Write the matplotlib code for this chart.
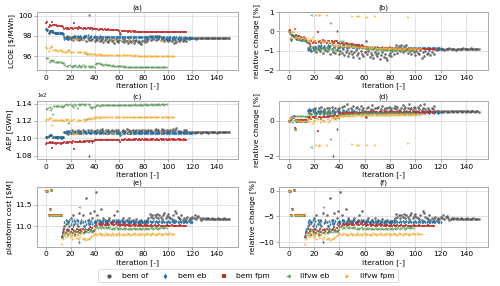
import numpy as np
import matplotlib.pyplot as plt

def vals(s):
    return np.array(s.split(), dtype=float)

labels = ["bem of", "bem eb", "bem fpm", "llfvw eb", "llfvw fpm"]
colors = ["#555555", "#1f6fa5", "#c23030", "#5a9e5a", "#f5b03c"]
markers = ["o", "d", "s", "<", ">"]

# LCOE [$/MWh] per iteration
lcoe_bem_of = vals("""
98.70 98.62 98.30 98.52 98.48 98.45 98.35 98.32 98.30 98.30
98.28 98.30 98.27 98.25 98.22 97.85 97.80 97.95 97.70 97.88
97.75 97.90 97.65 97.80 97.95 97.70 97.85 97.60 97.90 97.75
97.70 97.85 97.95 97.55 97.80 97.65 97.90 97.60 97.75 97.85
97.55 97.70 97.60 97.80 97.50 97.65 97.75 97.45 97.60 97.70
97.55 97.40 97.65 97.75 97.50 97.60 97.35 97.70 97.55 97.45
97.65 98.20 97.55 97.70 97.40 97.60 97.50 97.35 97.65 97.55
97.45 97.60 97.30 97.50 97.65 97.40 97.55 97.35 97.25 97.50
97.60 97.45 97.70 97.55 97.75 98.00 97.60 97.95 97.70 98.00
97.65 97.95 97.75 98.00 97.60 97.80 97.70 97.55 97.75 97.65
97.50 97.70 97.60 97.55 97.75 97.35 97.65 97.45 97.70 97.55
97.60 97.75 97.50 97.65 97.80 97.55 97.80 97.75 97.82 97.80
97.78 97.82 97.80 97.75 97.82 97.80 97.78 97.84 97.80 97.78
97.82 97.80 97.76 97.82 97.80 97.78 97.82 97.80 97.84 97.78
97.80 97.82 97.78 97.80 97.84 97.80 97.78 97.82 97.80 97.82 97.80
""")
lcoe_bem_eb = vals("""
98.70 98.60 98.28 98.50 98.45 98.40 98.35 98.30 98.32 98.30
98.30 98.28 98.30 98.25 98.22 97.75 97.80 97.78 97.75 97.85
97.80 97.90 97.85 97.95 97.80 97.90 98.00 97.85 97.95 97.80
97.90 98.00 97.85 97.95 98.05 100.10 97.90 97.95 98.70 97.90
97.95 97.90 97.92 97.88 97.95 97.90 97.92 97.88 97.90 97.93
97.90 97.88 97.92 97.90 97.87 97.92 97.90 97.88 97.91 97.89
97.90 97.88 97.86 97.90 97.88 97.87 97.89 97.86 97.88 97.87
97.88 97.86 97.87 97.85 97.88 97.86 97.87 97.85 97.86 97.88
97.86 97.85 97.87 97.86 97.85 97.87 97.86 97.85 97.84 97.86
97.85 97.86 97.84 97.85 97.86 97.84 97.85 97.86 97.84 97.85
97.84 97.86 97.85 97.84 97.85 97.86 97.84 97.85 97.83 97.85
97.84 97.85 97.83 97.84 97.85 97.84 97.83 97.85 97.84 97.83 97.84
""")
lcoe_bem_fpm = vals("""
99.30 99.35 98.90 99.05 99.00 99.40 99.10 99.05 99.08 99.00
99.02 98.98 99.00 98.95 98.90 98.70 98.75 98.65 98.80 98.70
98.75 98.80 98.70 99.25 98.75 98.80 98.70 98.85 98.75 98.80
98.70 98.78 98.82 98.72 98.80 98.75 98.70 98.78 98.80 98.72
98.68 98.65 98.70 98.62 98.66 98.64 98.68 98.62 98.65 98.63
98.60 98.64 98.58 98.62 98.60 98.57 98.60 98.55 98.58 98.56
98.50 98.25 98.48 98.46 98.47 98.45 98.46 98.44 98.45 98.46
98.44 98.45 98.43 98.45 98.44 98.42 98.44 98.43 98.42 98.44
98.43 98.42 98.44 98.42 98.43 98.41 98.42 98.43 98.41 98.42
98.41 98.42 98.40 98.42 98.41 98.40 98.42 98.41 98.40 98.41
98.40 98.41 98.40 98.39 98.41 98.40 98.39 98.40 98.41 98.39
98.40 98.39 98.40 98.38 98.40 98.39
""")
lcoe_llfvw_eb = vals("""
95.85 95.80 95.45 95.62 95.58 95.60 95.50 95.48 95.45 95.42
95.45 95.40 95.42 95.38 95.35 95.10 95.05 95.00 96.65 95.10
95.00 94.95 95.05 95.15 95.00 94.95 95.10 95.05 94.95 95.00
95.10 94.95 95.05 96.25 95.00 94.90 95.05 94.95 95.00 94.90
95.20 95.35 95.38 95.30 95.28 95.22 95.18 95.15 95.20 95.12
95.15 95.10 95.12 95.08 95.10 95.05 95.08 95.04 95.06 95.02
95.05 95.00 95.02 94.98 95.00 94.97 94.99 94.96 94.98 94.95
94.97 94.95 94.96 94.94 94.95 94.93 94.95 94.94 94.92 94.94
94.93 94.92 94.94 94.92 94.93 94.91 94.92 94.93 94.91 94.92
94.91 94.92 94.90 94.92 94.91 94.90 94.91 94.92 94.90
""")
lcoe_llfvw_fpm = vals("""
96.90 96.82 96.55 96.85 96.88 97.05 96.62 96.60 96.58 96.60
96.55 96.58 96.60 96.52 96.55 96.40 96.45 96.42 96.50 96.62
96.45 96.40 97.70 96.45 97.72 97.70 96.40 96.42 96.38 96.45
97.70 96.40 96.35 96.38 96.30 96.22 96.20 96.18 96.22 96.20
96.18 96.20 96.17 96.19 96.16 96.18 96.15 96.17 96.16 96.14
97.65 96.15 96.13 96.14 97.68 96.12 97.66 96.13 96.11 96.12
96.10 96.12 97.64 96.10 96.09 96.11 96.08 96.10 97.65 96.09
96.08 96.07 96.09 96.06 96.08 96.07 96.05 96.07 96.06 96.05
96.07 96.05 96.06 96.04 96.06 96.05 96.04 96.06 96.05 96.04
96.05 96.04 96.06 96.05 97.60 96.04 96.05 96.03 96.05 96.04
96.03 96.05 96.04 96.03 96.05 96.04
""")

# AEP [GWh] per iteration
aep_bem_of = vals("""
110.10 110.15 110.20 110.35 110.40 109.60 110.10 110.10 110.12 110.10
110.10 110.12 110.08 110.10 110.12 110.70 110.60 110.75 110.50 110.80
110.65 110.90 110.55 110.70 110.85 110.60 110.95 110.70 110.80 110.55
110.90 110.70 110.85 110.60 110.95 110.75 110.65 110.90 110.70 110.80
110.85 110.60 110.95 110.75 111.00 110.70 111.10 110.80 110.65 110.90
110.75 111.00 110.70 110.85 110.95 110.60 110.80 111.00 110.75 110.90
110.70 110.35 110.85 110.95 110.70 110.80 111.05 110.75 110.90 110.65
110.85 110.95 110.70 110.80 111.00 110.75 110.90 110.70 110.85 110.95
110.75 110.90 110.70 110.85 111.00 110.80 110.95 110.75 110.70 110.90
111.05 110.80 110.95 110.70 110.85 111.10 110.80 110.90 110.75 110.95
110.85 110.70 110.95 110.80 111.05 110.75 110.90 111.15 110.80 110.70
110.85 110.75 110.70 110.90 110.80 111.00 110.70 110.68 110.65 110.70
110.66 110.70 110.65 110.68 110.72 110.66 110.70 110.64 110.68 110.70
110.66 110.72 110.68 110.65 110.70 110.67 110.71 110.66 110.68 110.70
110.65 110.70 110.68 110.66 110.72 110.67 110.69 110.66 110.70 110.68 110.66
""")
aep_bem_eb = vals("""
110.10 110.15 110.20 110.35 110.40 109.60 110.10 110.12 110.10 110.08
110.10 110.12 110.10 110.08 110.10 110.75 110.80 110.70 110.78 110.72
110.65 110.75 110.60 110.70 110.55 110.68 110.72 110.60 110.65 110.70
110.58 110.66 110.70 110.62 110.68 107.90 110.60 110.65 109.60 110.62
110.68 110.62 110.66 110.60 110.64 110.62 110.66 110.60 110.63 110.65
110.62 110.60 110.64 110.61 110.63 110.60 110.62 110.64 110.60 110.62
110.61 110.63 110.60 110.62 110.61 110.63 110.60 110.62 110.61 110.60
110.62 110.60 110.63 110.61 110.60 110.62 110.64 110.60 110.61 110.63
110.60 110.62 110.61 110.63 110.60 110.62 110.61 110.60 110.63 110.61
110.62 110.60 110.61 110.63 110.60 110.62 110.61 110.60 110.62 110.61
110.63 110.60 110.62 110.61 110.60 110.62 110.63 110.61 110.60 110.62
110.61 110.60 110.62 110.61 110.63 110.60 110.61 110.62 110.60 110.61 110.62
""")
aep_bem_fpm = vals("""
109.35 109.40 109.50 109.55 109.50 108.90 109.40 109.42 109.38 109.40
109.42 109.40 109.38 109.40 109.42 109.55 109.50 109.60 109.48 109.55
109.58 109.50 109.62 108.70 109.55 109.60 109.52 109.58 109.62 109.55
109.60 109.65 109.58 109.62 109.66 109.60 109.64 109.68 109.62 109.66
109.75 109.80 109.78 109.82 109.80 109.78 109.82 109.80 109.84 109.80
109.82 109.80 109.84 109.82 109.80 109.83 109.81 109.84 109.82 109.80
109.85 109.60 109.83 109.85 109.84 109.86 109.84 109.85 109.86 109.84
109.85 109.84 109.86 109.85 109.87 109.84 109.86 109.85 109.84 109.86
109.85 109.87 109.84 109.86 109.85 109.84 109.86 109.85 109.87 109.85
109.84 109.86 109.85 109.84 109.86 109.85 109.87 109.84 109.86 109.85
109.84 109.86 109.85 109.87 109.84 109.86 109.85 109.84 109.86 109.85
109.86 109.84 109.85 109.86 109.84 109.85
""")
aep_llfvw_eb = vals("""
113.40 113.50 113.55 113.30 113.45 112.85 113.70 113.68 113.72 113.70
113.68 113.72 113.70 113.66 113.70 113.85 113.90 113.80 111.75 113.95
113.85 113.75 113.55 113.90 113.80 113.50 113.95 113.85 114.00 113.90
113.95 113.85 114.00 112.25 113.90 113.80 113.55 113.50 113.60 113.55
113.75 113.80 113.82 113.78 113.80 113.84 113.80 113.82 113.85 113.83
113.85 113.82 113.86 113.84 113.87 113.85 113.83 113.86 113.88 113.85
113.87 113.86 113.88 113.85 113.87 113.89 113.86 113.88 113.87 113.89
113.86 113.88 113.90 113.87 113.89 113.88 113.90 113.87 113.89 113.88
113.90 113.88 113.91 113.89 113.88 113.90 113.89 113.91 113.88 113.90
113.89 113.91 113.90 113.88 113.90 113.91 113.89 113.90 113.91
""")
aep_llfvw_fpm = vals("""
112.10 112.20 112.25 112.35 112.30 111.55 112.10 112.12 112.08 112.10
112.05 112.10 112.08 112.06 112.10 112.00 112.20 112.10 112.25 111.95
112.15 112.05 110.55 112.20 110.50 110.55 112.00 112.15 112.10 112.05
110.60 112.20 112.00 112.15 112.25 112.30 112.20 112.30 112.25 112.35
112.40 112.38 112.42 112.40 112.38 112.42 112.40 112.43 112.41 112.40
110.65 112.42 112.44 112.41 110.55 112.43 110.60 112.42 112.44 112.43
112.45 112.43 110.60 112.45 112.44 112.46 112.45 112.44 110.60 112.46
112.45 112.47 112.44 112.46 112.48 112.45 112.47 112.46 112.48 112.45
112.47 112.49 112.46 112.48 112.47 112.49 112.46 112.48 112.47 112.49
112.48 112.46 112.49 112.47 110.70 112.48 112.50 112.47 112.49 112.48
112.50 112.47 112.49 112.48 112.50 112.49
""")

# platform cost [$M] per iteration (first 13 iterations shared by all runs)
plat_start = "11.82 11.82 11.25 11.40 11.84 11.25 11.25 11.25 11.25 11.25 11.25 11.25 11.25"
plat_bem_of = vals(plat_start + """
10.75 10.90 11.00 11.05 10.95 11.10 11.00
11.20 10.95 11.25 11.05 10.90 11.15 11.00 11.30 10.95 11.10
11.25 11.00 10.95 11.65 11.15 11.05 11.30 10.90 11.20 11.35
11.10 11.78 11.25 11.15 11.05 11.40 11.10 11.20 11.15 11.10
11.05 11.15 11.20 11.10 11.05 11.15 11.25 11.10 11.35 11.15
11.10 11.05 11.15 11.20 11.10 11.05 11.15 11.10 11.20 11.08
11.12 11.15 11.05 11.10 11.18 11.08 11.12 11.05 11.15 11.10
11.08 11.12 11.10 11.15 11.20 11.28 11.22 11.25 11.20 11.26
11.22 11.28 11.20 11.25 11.22 11.18 11.25 11.30 11.20 11.24
11.28 11.22 11.20 11.18 11.25 11.15 11.35 11.30 11.22 11.20
11.18 11.25 11.15 11.20 11.12 11.18 11.22 11.15 11.20 11.18
11.22 11.20 11.25 11.18 11.22 11.24 11.20 11.15 11.18 11.20
11.18 11.20 11.16 11.19 11.18 11.17 11.19 11.18 11.16 11.18
11.17 11.19 11.18 11.16 11.18 11.17 11.19 11.18 11.17 11.18 11.17
""")
plat_bem_eb = vals(plat_start + """
10.80 10.95 11.10 11.15 11.12 11.08 11.15
11.05 11.12 11.00 11.15 11.10 11.05 11.12 10.65 11.08 11.15
11.10 11.00 11.12 11.05 11.10 11.15 11.08 11.12 11.05 11.10
11.12 11.10 11.14 11.11 11.13 11.10 11.12 11.14 11.11 11.13
11.10 11.12 11.15 11.11 11.13 11.10 11.12 11.14 11.11 11.13
11.10 11.12 11.11 11.13 11.10 11.12 11.14 11.11 11.12 11.10
11.13 11.11 11.12 11.10 11.13 11.11 11.12 11.10 11.12 11.11
11.13 11.10 11.12 11.11 11.09 11.12 11.10 11.11 11.13 11.10
11.12 11.11 11.09 11.12 11.10 11.11 11.12 11.10 11.11 11.09
11.12 11.10 11.11 11.12 11.10 11.11 11.09 11.12 11.10 11.11
11.12 11.10 11.11 11.09 11.12 11.10 11.11 11.12 11.10 11.11 11.10
""")
plat_bem_fpm = vals(plat_start + """
10.75 10.85 10.95 10.85 10.90 10.80 10.92
10.88 10.95 10.85 10.90 10.80 10.95 10.88 10.92 10.85 10.90
10.95 10.85 10.90 10.88 10.92 10.95 10.98 10.92 10.96 10.90
11.00 11.05 11.02 11.06 11.04 11.05 11.03 11.06 11.04 11.05
11.04 11.06 11.03 11.08 11.05 11.10 11.04 11.06 11.09 11.03
11.05 11.02 11.04 11.03 11.05 11.02 11.04 11.03 11.01 11.04
11.02 11.03 11.05 11.02 11.03 11.01 11.04 11.02 11.03 11.01
11.02 11.04 11.01 11.03 11.02 11.00 11.03 11.01 11.02 11.04
11.01 11.02 11.00 11.03 11.01 11.02 11.00 11.02 11.01 11.03
11.00 11.02 11.01 11.03 11.00 11.02 11.01 11.00 11.02 11.01
11.03 11.00 11.02 11.01 11.02 11.01
""")
plat_llfvw_eb = vals(plat_start + """
10.78 10.85 10.80 10.88 10.82 10.90 10.85
10.80 10.88 10.92 10.85 10.90 10.82 10.88 11.45 10.86 10.90
10.85 10.92 10.88 10.90 10.86 10.92 10.95 10.90 10.88 10.94
10.98 11.00 10.96 10.99 10.97 11.00 10.98 10.96 10.99 10.97
10.98 10.96 10.99 10.95 10.97 10.94 10.96 10.98 10.95 10.97
10.94 10.96 10.95 10.97 10.94 10.96 10.95 10.93 10.96 10.94
10.95 10.97 10.94 10.96 10.95 10.93 10.96 10.94 10.95 10.97
10.94 10.96 10.95 10.97 10.94 10.96 10.98 10.95 10.97 10.96
10.98 10.95 10.97 10.96 10.98 10.96 10.97 10.98 10.96
""")
plat_llfvw_fpm = vals(plat_start + """
10.60 10.72 10.80 10.75 10.85 10.78 10.82
10.75 10.80 10.72 10.85 10.78 10.74 10.80 10.70 10.76 10.82
10.72 10.70 10.74 10.68 10.72 10.70 10.73 10.75 10.78 10.80
10.82 10.84 10.81 10.83 10.85 10.82 10.80 10.83 10.81 10.84
10.82 10.80 10.83 10.81 10.82 10.84 10.81 10.83 10.80 10.82
10.84 10.81 10.83 10.82 10.80 10.83 10.81 10.84 10.82 10.83
10.81 10.83 10.82 10.84 10.81 10.82 10.83 10.81 10.84 10.82
10.83 10.81 10.82 10.84 10.82 10.83 10.81 10.82 10.84 10.83
10.81 10.83 10.82 10.84 10.83 10.81 10.82 10.83 10.84 10.82
10.83 10.82 10.84 10.83 10.82 10.83
""")

lcoe = [lcoe_bem_of, lcoe_bem_eb, lcoe_bem_fpm, lcoe_llfvw_eb, lcoe_llfvw_fpm]
aep = [aep_bem_of, aep_bem_eb, aep_bem_fpm, aep_llfvw_eb, aep_llfvw_fpm]
plat = [plat_bem_of, plat_bem_eb, plat_bem_fpm, plat_llfvw_eb, plat_llfvw_fpm]

fs = 5.4
fig = plt.figure(figsize=(5, 2.86), dpi=100)
lefts = [0.074, 0.558]
widths = [0.402, 0.418]
rows = [(0.755, 0.203), (0.444, 0.203), (0.138, 0.208)]
titles = ["(a)", "(b)", "(c)", "(d)", "(e)", "(f)"]
ylabels = [r"LCOE [\$/MWh]", "relative change [%]", "AEP [GWh]",
           "relative change [%]", r"platoform cost [\$M]", "relative change [%]"]

handles = []
for r, data in enumerate([lcoe, aep, plat]):
    for c in range(2):
        ax = fig.add_axes([lefts[c], rows[r][0], widths[c], rows[r][1]])
        k = 2 * r + c
        for i, v in enumerate(data):
            y = v if c == 0 else 100 * (v / v[0] - 1)
            h = ax.scatter(np.arange(len(v)), y, s=3.6, marker=markers[i],
                           color=colors[i], alpha=0.85, linewidths=0, label=labels[i])
            if k == 0:
                handles.append(h)
        ax.set_xlim(-7.5, 157.5)
        ax.set_xticks(range(0, 141, 20))
        ax.set_title(titles[k], fontsize=fs - 0.3, pad=2)
        ax.set_xlabel("Iteration [-]", fontsize=fs, labelpad=1)
        ax.set_ylabel(ylabels[k], fontsize=fs, labelpad=2)
        ax.tick_params(labelsize=fs, length=2, width=0.5, pad=1.5, color="#888888")
        ax.grid(True, color="#dddddd", linewidth=0.6)
        ax.set_axisbelow(True)
        for sp in ax.spines.values():
            sp.set_color("#aaaaaa")
            sp.set_linewidth(0.7)
        if k == 0:
            ax.set_yticks([96, 98, 100])
        if k == 1:
            ax.set_ylim(-2, 1)
            ax.set_yticks([-2, -1, 0, 1])
        if k == 2:
            ax.set_yticks([108, 110, 112, 114])
            ax.ticklabel_format(axis="y", style="sci", scilimits=(2, 2))
            ax.yaxis.get_offset_text().set_fontsize(3.5)
        if k == 4:
            ax.set_yticks([11.0, 11.5])

leg = fig.legend(handles, labels, loc="lower center", bbox_to_anchor=(0.496, 0.0),
                 ncol=5, fontsize=fs, markerscale=1.6, frameon=True,
                 columnspacing=1.3, handlelength=2.0, handletextpad=0.7, borderpad=0.45)
leg.get_frame().set_edgecolor("#cccccc")
leg.get_frame().set_linewidth(0.6)
for lh in leg.legend_handles:
    lh.set_alpha(1)

fig.savefig("out.png", dpi=100)
